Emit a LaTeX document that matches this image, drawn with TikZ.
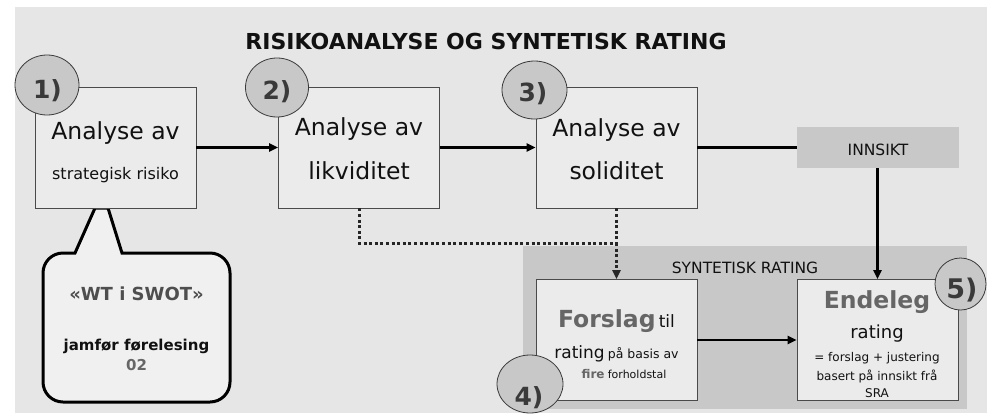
\documentclass[tikz,border=0pt]{standalone}
\usepackage{fontspec}
\setmainfont{DejaVu Sans}
\usetikzlibrary{arrows.meta,shapes.geometric}
\definecolor{bgpanel}{HTML}{E6E6E6}
\definecolor{synpanel}{HTML}{C8C8C8}
\definecolor{boxfill}{HTML}{EBEBEB}
\definecolor{boxline}{HTML}{4A4A4A}
\definecolor{numgray}{HTML}{3A3A3A}
\definecolor{boldgray}{HTML}{666666}
\definecolor{txtblack}{HTML}{111111}
\definecolor{calloutfill}{HTML}{F0F0F0}
\newcommand\fsz[1]{\fontsize{#1}{#1}\selectfont}
\begin{document}
\begin{tikzpicture}[x=1pt,y=-1pt,
  stepbox/.style={draw=boxline,line width=0.9pt,fill=boxfill,inner sep=0pt,minimum width=161pt,minimum height=121pt},
  numoval/.style={ellipse,draw=numgray,line width=0.8pt,fill=synpanel,inner sep=0pt},
  txt/.style={inner sep=0pt,anchor=base,text=txtblack},
  numtxt/.style={inner sep=0pt,anchor=base,text=numgray,font=\bfseries\fsz{25}},
  arr/.style={line width=2.4pt,draw=black,-{Triangle[length=9pt,width=8pt]}},
  plainline/.style={line width=2.4pt,draw=black},
  dotline/.style={line width=3pt,draw=black!85,dash pattern=on 3pt off 2.6pt}
]
\useasboundingbox (0,0) rectangle (987,413);
\fill[bgpanel] (15,7) rectangle (987,413);
\fill[synpanel] (523,246) rectangle (967,409);

% title
\node[txt,font=\bfseries\fsz{22}] (title) at (486,49) {RISIKOANALYSE OG SYNTETISK RATING};

% callout
\draw[line width=3pt,fill=calloutfill] (43,330) [rounded corners=20pt] -- (43,253) [sharp corners] -- (75,253) -- (95,208) -- (108,208) -- (122,253) [rounded corners=20pt] -- (230,253) -- (230,402) -- (43,402) [sharp corners] -- cycle;
\node[txt,font=\bfseries\fsz{18},text=numgray!90] (wt) at (136.5,300) {«WT i SWOT»};
\node[txt,font=\bfseries\fsz{15}] (jam) at (136.5,350) {jamfør førelesing};
\node[txt,font=\bfseries\fsz{15},text=boldgray] (lect) at (136.5,370) {02};

% main boxes
\node[stepbox] (b1) at (115.5,147.5) {};
\node[stepbox] (b2) at (359,147.5) {};
\node[stepbox] (b3) at (616.5,147.5) {};
\node[fill=synpanel,inner sep=0pt,minimum width=162pt,minimum height=41pt] (ins) at (878,147.5) {};
\node[stepbox] (fs) at (616.5,340) {};
\node[stepbox] (en) at (877.5,340) {};

% box texts
\node[txt,font=\fsz{23.5}] at (115.5,139) {Analyse av};
\node[txt,font=\fsz{16}] at (115.5,179) {strategisk risiko};
\node[txt,font=\fsz{23.5}] at (359,135) {Analyse av};
\node[txt,font=\fsz{23.5}] at (359,179) {likviditet};
\node[txt,font=\fsz{23.5}] at (616.5,136) {Analyse av};
\node[txt,font=\fsz{23.5}] at (616.5,179) {soliditet};
\node[txt,font=\fsz{15.5}] at (878,155) {INNSIKT};
\node[txt,font=\fsz{15.5}] at (745,273) {SYNTETISK RATING};

\node[txt] at (616.5,327) {{\bfseries\fsz{23.5}\textcolor{boldgray}{Forslag}} {\fsz{17}til}};
\node[txt] at (616.5,358) {{\fsz{17}rating} {\fsz{12.5}på basis av}};
\node[txt] at (624,378) {{\bfseries\fsz{12}\textcolor{boldgray}{fire}} {\fsz{11}forholdstal}};

\node[txt,font=\bfseries\fsz{23.5},text=boldgray] at (877,308) {Endeleg};
\node[txt,font=\fsz{18}] at (877,338) {rating};
\node[txt,font=\fsz{12}] at (877,361) {= forslag + justering};
\node[txt,font=\fsz{12}] at (877,380) {basert på innsikt frå};
\node[txt,font=\fsz{12}] at (877,397) {SRA};

% number ovals
\node[numoval,minimum width=64pt,minimum height=60pt] (n1) at (47,85) {};
\node[numtxt] at (47.5,98) {1)};
\node[numoval,minimum width=63pt,minimum height=59pt] (n2) at (277,87.5) {};
\node[numtxt] at (277,99) {2)};
\node[numoval,minimum width=65pt,minimum height=58pt] (n3) at (534.5,90) {};
\node[numtxt] at (533,101) {3)};
\node[numoval,minimum width=66pt,minimum height=58pt] (n4) at (530,384) {};
\node[numtxt] at (529,405) {4)};
\node[numoval,minimum width=51pt,minimum height=52pt] (n5) at (960.5,284) {};
\node[numtxt,font=\bfseries\fsz{27}] at (962,298) {5)};

% connectors
\draw[arr] (b1.east) -- (b2.west);
\draw[arr] (b2.east) -- (b3.west);
\draw[plainline] (b3.east) -- (ins.west);
\draw[arr] (ins.south -| en.north) -- (en.north);
\draw[arr] (fs.east) -- (en.west);
\coordinate (join) at (616.5,243);
\draw[dotline] (b2.south) |- (join);
\draw[dotline] (b3.south) -- (join);
\draw[dotline,-{Triangle[length=9pt,width=8pt]}] (join) -- (fs.north);
\end{tikzpicture}
\end{document}
